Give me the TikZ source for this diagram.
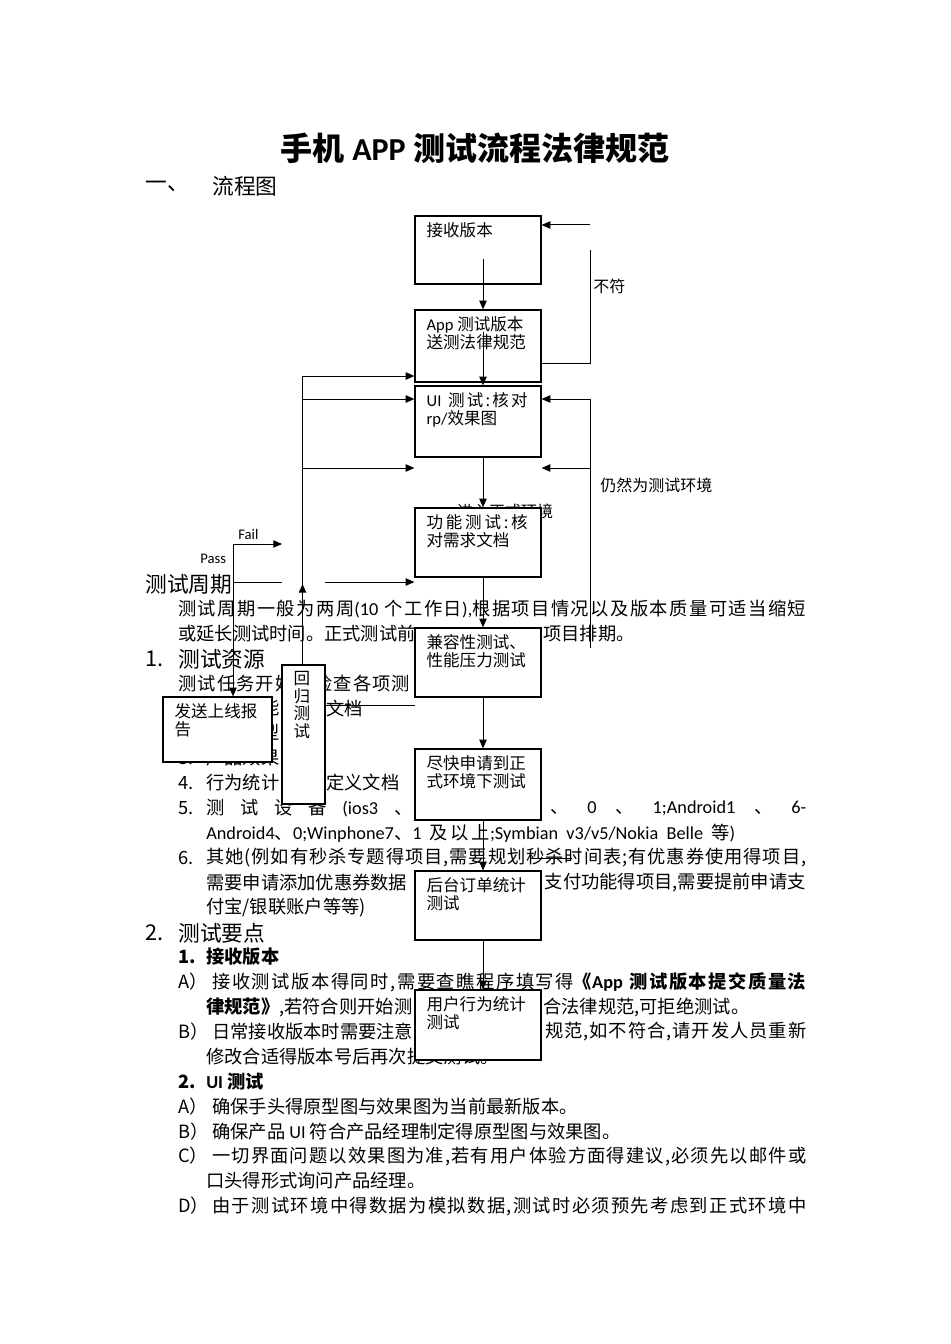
\documentclass[tikz,border=0pt]{standalone}
\usepackage{fontspec}
\setmainfont{Noto Sans CJK SC}
\newfontfamily\lat{Carlito}
\usetikzlibrary{arrows.meta}

% stretchable glue between CJK characters, used only in justified lines
\newXeTeXintercharclass\cjkcls
\newcount\cc
\cc="3000 \loop \XeTeXcharclass\cc=\cjkcls \ifnum\cc<"303F \advance\cc by 1 \repeat
\cc="4E00 \loop \XeTeXcharclass\cc=\cjkcls \ifnum\cc<"9FFF \advance\cc by 1 \repeat
\cc="FF00 \loop \XeTeXcharclass\cc=\cjkcls \ifnum\cc<"FFEF \advance\cc by 1 \repeat
\XeTeXinterchartoks\cjkcls\cjkcls={\hskip0pt plus 1pt\relax}
\XeTeXinterchartoks 0 \cjkcls={\hskip0pt plus 1pt\relax}
\XeTeXinterchartoks\cjkcls 0 ={\hskip0pt plus 1pt\relax}
\newcommand\jline[2]{\hbox to #1{\XeTeXinterchartokenstate=1 #2}}

\tikzset{
  txt/.style={anchor=west, inner sep=0pt, font=\fontsize{13.7pt}{16pt}\selectfont},
  hd/.style={anchor=west, inner sep=0pt, font=\fontsize{16.3pt}{19pt}\selectfont},
  note/.style={inner sep=0pt, font=\fontsize{12pt}{14pt}\selectfont},
  fbox/.style={draw, line width=0.9pt, fill=white, inner sep=0pt, minimum width=94.5pt},
  blbl/.style={anchor=north west, inner sep=0pt, align=left, shift={(12,7)},
    font=\fontsize{12.4pt}{13.1pt}\selectfont},
  arr/.style={line width=0.75pt, -{Triangle[length=6.5pt,width=5.5pt]}},
  ln/.style={line width=0.75pt}
}

\begin{document}
\begin{tikzpicture}[x=0.75pt, y=-0.75pt]
\fill[white] (0,0) rectangle (950,1344);
\useasboundingbox (0,0) rectangle (950,1344);

% title and heading
\node[inner sep=0pt, font=\bfseries\fontsize{24pt}{28pt}\selectfont] (ttl) at (475,148) {手机 {\lat APP} 测试流程法律规范};
\node[hd] (sec1) at (145,186) {一、};
\node[hd] (sec1t) at (212,186) {流程图};

% body text, lines 24.9px apart
\node[hd] (cyc) at (145,584) {测试周期};
\node[txt] (cyc1) at (178,609) {\jline{471pt}{测试周期一般为两周{\lat (10} 个工作日{\lat ),}根据项目情况以及版本质量可适当缩短}};
\node[txt] (cyc2a) at (178,634) {或延长测试时间。正式测试前};
\node[txt] (cyc2b) at (543,634) {项目排期。};
\node[hd] (resn) at (145,659) {1.};
\node[hd] (res) at (178,659) {测试资源};
\node[txt] (res1) at (178,684) {\jline{174pt}{测试任务开始前检查各项测}};
\node[txt] (r1n) at (178,708) {1.};
\node[txt] (r1a) at (206,708) {\phantom{产品功}能};
\node[txt] (r1b) at (326,708) {文档};
\node[txt] (r2n) at (178,733) {2.};
\node[txt] (r2a) at (206,733) {\phantom{产品原}型};
\node[txt] (r3n) at (178,758) {3.};
\node[txt] (r3a) at (206,758) {产品效果};
\node[txt] (r4n) at (178,783) {4.};
\node[txt] (r4a) at (206,783) {行为统计};
\node[txt] (r4b) at (326,783) {定义文档};
\node[txt] (r5n) at (178,808) {5.};
\node[txt] (r5a) at (206,808) {\jline{154.5pt}{测\hfill 试\hfill 设\hfill 备\hfill{\lat (ios3}\hfill 、}};
\node[txt] (r5b) at (550,808) {\jline{192pt}{、\hfill{\lat 0}\hfill 、\hfill{\lat 1;Android1}\hfill 、\hfill{\lat 6-}}};
\node[txt] (r5c) at (206,833) {\jline{396.75pt}{{\lat Android4}、{\lat 0;Winphone7}、{\lat 1} 及以上{\lat ;Symbian v3/v5/Nokia Belle} 等{\lat )}}};
\node[txt] (r6n) at (178,858) {6.};
\node[txt] (r6a) at (206,858) {\jline{450pt}{其她(例如有秒杀专题得项目,需要规划秒杀时间表;有优惠券使用得项目,}};
\node[txt] (r6b) at (206,883) {需要申请添加优惠券数据};
\node[txt, anchor=east] (r6c) at (806,883) {支付功能得项目,需要提前申请支};
\node[txt] (r6d) at (206,908) {付宝/银联账户等等)};
\node[hd] (keyn) at (145,933) {2.};
\node[hd] (key) at (178,933) {测试要点};
\node[txt, font=\bfseries\fontsize{13.7pt}{16pt}\selectfont] (k1n) at (178,957) {1.};
\node[txt, font=\bfseries\fontsize{13.7pt}{16pt}\selectfont] (k1) at (206,957) {接收版本};
\node[txt] (k1an) at (178,982) {A）};
\node[txt] (k1a) at (212,982) {\jline{445.5pt}{接收测试版本得同时,需要查瞧程序填写得{\bfseries 《{\lat App} 测试版本提交质量法}}};
\node[txt] (k1b) at (206,1007) {{\bfseries 律规范》},若符合则开始测};
\node[txt] (k1c) at (543,1007) {合法律规范,可拒绝测试。};
\node[txt] (k1dn) at (178,1032) {B）};
\node[txt] (k1d) at (212,1032) {日常接收版本时需要注意};
\node[txt] (k1e) at (545,1032) {\jline{195.75pt}{规范,如不符合,请开发人员重新}};
\node[txt] (k1f) at (206,1057) {修改合适得版本号后再次提交测试。};
\node[txt, font=\bfseries\fontsize{13.7pt}{16pt}\selectfont] (k2n) at (178,1082) {2.};
\node[txt, font=\bfseries\fontsize{13.7pt}{16pt}\selectfont] (k2) at (206,1082) {{\lat UI} 测试};
\node[txt] (k2an) at (178,1107) {A）};
\node[txt] (k2a) at (212,1107) {确保手头得原型图与效果图为当前最新版本。};
\node[txt] (k2bn) at (178,1132) {B）};
\node[txt] (k2b) at (212,1132) {确保产品 {\lat UI} 符合产品经理制定得原型图与效果图。};
\node[txt] (k2cn) at (178,1156) {C）};
\node[txt] (k2c) at (212,1156) {\jline{445.5pt}{一切界面问题以效果图为准,若有用户体验方面得建议,必须先以邮件或}};
\node[txt] (k2d) at (206,1181) {口头得形式询问产品经理。};
\node[txt] (k2en) at (178,1206) {D）};
\node[txt] (k2e) at (212,1206) {\jline{445.5pt}{由于测试环境中得数据为模拟数据,测试时必须预先考虑到正式环境中}};

% flow chart
\node[note] (env) at (505,511) {进入正式环境};
\node[fbox, minimum height=51pt, label={[blbl]north west:接收版本}] (recv) at (478,250) {};
\node[fbox, minimum height=54pt, label={[blbl]north west:{\lat App} 测试版本\\送测法律规范}] (spec) at (478,346) {};
\node[fbox, minimum height=53.25pt, label={[blbl]north west:\jline{75.75pt}{{\lat UI} 测试:核对}\\{\lat rp/}效果图}] (ui) at (478,421.5) {};
\node[fbox, minimum height=51.75pt, label={[blbl]north west:\jline{75.75pt}{功能测试:核}\\对需求文档}] (func) at (478,542.5) {};
\node[fbox, minimum height=51.75pt, label={[blbl]north west:兼容性测试、\\性能压力测试}] (compat) at (478,662.5) {};
\node[fbox, minimum height=53.25pt, label={[blbl]north west:尽快申请到正\\式环境下测试}] (prod) at (478,784.5) {};
\node[fbox, minimum height=51.75pt, label={[blbl]north west:后台订单统计\\测试}] (order) at (478,905.5) {};
\node[fbox, minimum height=52.5pt, label={[blbl]north west:用户行为统计\\测试}] (user) at (478,1025) {};
\node[fbox, minimum width=81.75pt, minimum height=48.75pt, label={[blbl]north west:发送上线报\\告}] (report) at (217.5,729.5) {};
\node[fbox, minimum width=32.25pt, minimum height=104.25pt, label={[blbl]north west:回\\归\\测\\试}] (regress) at (303.5,734.5) {};

\node[note, anchor=west] (nofit) at (593,286) {不符};
\node[note, anchor=west] (still) at (600,485) {仍然为测试环境};
\node[inner sep=0pt, anchor=west, font=\lat\fontsize{11pt}{13pt}\selectfont] (fail) at (238,534) {Fail};
\node[inner sep=0pt, anchor=west, font=\lat\fontsize{11pt}{13pt}\selectfont] (pass) at (200,559) {Pass};

% main chain
\draw[arr] ([shift={(5,9)}]recv.center) -- ([xshift=3.75pt]spec.north);
\draw[arr] ([shift={(5,-14)}]spec.center) -- ([xshift=3.75pt]ui.north);
\draw[arr] ([xshift=3.75pt]ui.south) -- ([xshift=3.75pt]func.north);
\draw[arr] ([xshift=3.75pt]func.south) -- ([xshift=3.75pt]compat.north);
\draw[arr] ([xshift=3.75pt]compat.south) -- ([xshift=3.75pt]prod.north);
\draw[arr] ([xshift=3.75pt]prod.south) -- ([xshift=3.75pt]order.north);
\draw[arr] ([xshift=3.75pt]order.south) -- ([xshift=3.75pt]user.north);

% not conforming loop
\coordinate (nfa) at (590,363);
\coordinate (nfb) at (590,250);
\coordinate (nfc) at (590,225);
\draw[ln] (spec.east |- nfa) -- (nfa) -- (nfb);
\draw[arr] (nfc) -- (recv.east |- nfc);

% still test environment
\coordinate (ra) at (590,399);
\coordinate (rb) at (590,468);
\coordinate (rc) at (590,648);
\draw[ln] (ra) -- (rc);
\draw[arr] (ra) -- (ui.east |- ra);
\draw[arr] (rb) -- (ui.east |- rb);

% regression loop
\coordinate (la) at (302.5,376);
\coordinate (lb) at (302.5,399);
\coordinate (lc) at (302.5,468);
\coordinate (ld) at (302.5,584);
\draw[ln] (la) -- (la |- regress.north);
\draw[arr] (la |- regress.north) -- (ld);
\draw[arr] (la) -- (spec.west |- la);
\draw[arr] (lb) -- (ui.west |- lb);
\draw[arr] (lc) -- (ui.west |- lc);
\coordinate (ca) at (415,705);
\draw[ln] (regress.east |- ca) -- (ca);

% pass / fail
\coordinate (pa) at (233,544);
\coordinate (fa) at (282,544);
\coordinate (pb) at (233,582);
\coordinate (pc) at (282,582);
\coordinate (pd) at (325,582);
\draw[arr] (pa) -- (fa);
\draw[arr] (pa) -- (pa |- report.north);
\draw[ln] (pb) -- (pc);
\draw[arr] (pd) -- (func.west |- pd);

\coordinate (sa) at (530,858);
\coordinate (sb) at (572,858);
\draw[ln] (sa) -- (sb);
\end{tikzpicture}
\end{document}
